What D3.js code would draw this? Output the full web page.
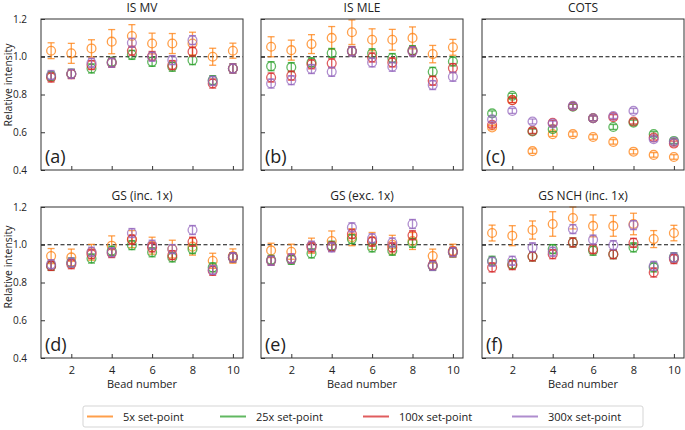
<!DOCTYPE html>
<html><head><meta charset="utf-8">
<script src="https://cdn.jsdelivr.net/npm/d3@7"></script>
<style>body{margin:0;background:#fff}svg{display:block}text{font-family:"Open Sans","Noto Sans",sans-serif;fill:#222}</style>
</head><body><svg id="c" width="685" height="430"></svg>
<script>
const beads = [1,2,3,4,5,6,7,8,9,10];
const xTicks = [2,4,6,8,10];
const yTicks = [0.4,0.6,0.8,1.0,1.2];
const yTickLabels = ["0.4","0.6","0.8","1.0","1.2"];
const panelTitles = ["IS MV","IS MLE","COTS","GS (inc. 1x)","GS (exc. 1x)","GS NCH (inc. 1x)"];
const panelLetters = ["(a)","(b)","(c)","(d)","(e)","(f)"];
const seriesNames = ["5x set-point","25x set-point","100x set-point","300x set-point"];
const seriesColors = ["#ff7f0e","#2ca02c","#d62728","#9467bd"];

// Panel (a) IS MV
const a5   = [1.032,1.018,1.044,1.080,1.110,1.070,1.070,1.070,1.000,1.032];
const a5e  = [0.042,0.053,0.046,0.064,0.060,0.055,0.053,0.060,0.045,0.040];
const a25  = [0.897,0.910,0.938,0.973,1.010,0.973,0.947,0.982,0.876,0.938];
const a100 = [0.890,0.908,0.956,0.968,1.032,1.004,0.956,1.027,0.858,0.938];
const a300 = [0.903,0.910,0.968,0.968,1.074,1.000,0.982,1.088,0.872,0.938];
// Panel (b) IS MLE
const b5   = [1.053,1.035,1.067,1.100,1.130,1.090,1.090,1.100,1.014,1.050];
const b5e  = [0.053,0.053,0.050,0.060,0.065,0.058,0.055,0.058,0.046,0.042];
const b25  = [0.950,0.945,0.970,1.020,1.030,1.018,0.993,1.035,0.920,0.975];
const b100 = [0.890,0.900,0.960,0.965,1.030,0.996,0.970,1.030,0.873,0.940];
const b300 = [0.858,0.876,0.935,0.920,1.028,0.970,0.947,1.028,0.850,0.894];
// Panel (c) COTS
const c5   = [0.625,0.770,0.500,0.590,0.590,0.575,0.549,0.497,0.480,0.469];
const c5e  = [0.012,0.012,0.012,0.012,0.012,0.012,0.012,0.012,0.012,0.012];
const c25  = [0.700,0.793,0.604,0.616,0.735,0.674,0.628,0.651,0.590,0.554];
const c100 = [0.640,0.770,0.607,0.650,0.738,0.674,0.680,0.657,0.572,0.540];
const c300 = [0.668,0.713,0.657,0.646,0.740,0.674,0.686,0.713,0.563,0.550];
// Panel (d) GS (inc. 1x)
const d5   = [0.940,0.933,0.960,0.995,1.030,0.995,0.977,0.990,0.915,0.940];
const d5e  = [0.040,0.044,0.042,0.052,0.045,0.045,0.047,0.045,0.040,0.038];
const d25  = [0.888,0.906,0.927,0.968,0.998,0.960,0.933,0.977,0.880,0.933];
const d100 = [0.888,0.897,0.950,0.956,1.027,0.986,0.945,1.016,0.862,0.933];
const d300 = [0.897,0.906,0.963,0.960,1.062,1.000,0.977,1.078,0.867,0.933];
// Panel (e) GS (exc. 1x)
const e5   = [0.970,0.963,0.995,1.020,1.040,1.020,1.000,1.020,0.940,0.968];
const e5e  = [0.038,0.040,0.040,0.053,0.045,0.045,0.050,0.045,0.037,0.035];
const e25  = [0.920,0.920,0.954,0.995,1.030,0.986,0.968,1.010,0.888,0.960];
const e100 = [0.915,0.927,0.986,0.990,1.057,1.016,0.986,1.050,0.892,0.963];
const e300 = [0.915,0.927,0.995,0.986,1.092,1.034,1.012,1.110,0.888,0.960];
// Panel (f) GS NCH (inc. 1x)
const f5   = [1.062,1.048,1.078,1.110,1.142,1.100,1.100,1.110,1.030,1.062];
const f5e  = [0.042,0.053,0.048,0.065,0.058,0.058,0.055,0.057,0.045,0.041];
const f25  = [0.915,0.897,0.938,0.977,1.012,0.968,0.950,0.986,0.880,0.933];
const f100 = [0.880,0.892,0.938,0.950,1.012,0.977,0.950,1.010,0.853,0.924];
const f300 = [0.910,0.915,0.986,0.963,1.083,1.027,0.998,1.104,0.888,0.933];

const otherErr = [0.024,0.024,0.013,0.024,0.024,0.024];

const panels = [
  [a5,a25,a100,a300,a5e],[b5,b25,b100,b300,b5e],[c5,c25,c100,c300,c5e],
  [d5,d25,d100,d300,d5e],[e5,e25,e100,e300,e5e],[f5,f25,f100,f300,f5e]
];

const svg = d3.select("#c");
const colX = [41,261,482], rowY = [19,207];
const W = 202, H = 151;

panels.forEach((p,i)=>{
  const col = i%3, row = Math.floor(i/3);
  const g = svg.append("g").attr("transform",`translate(${colX[col]},${rowY[row]})`);
  const x = d3.scaleLinear().domain([0.5,10.5]).range([0,W]);
  const y = d3.scaleLinear().domain([0.4,1.2]).range([H,0]);

  g.append("line").attr("x1",0).attr("x2",W).attr("y1",y(1)).attr("y2",y(1))
    .attr("stroke","#111").attr("stroke-width",1.2).attr("stroke-dasharray","4,2.5");

  for(let s=0;s<4;s++){
    const vals = p[s];
    const errs = s===0 ? p[4] : beads.map(()=>otherErr[i]);
    const sg = g.append("g").attr("stroke",seriesColors[s]).attr("stroke-opacity",0.75).attr("fill","none").attr("stroke-width",1.3);
    beads.forEach((b,k)=>{
      const cx = x(b), v = vals[k], e = errs[k];
      sg.append("line").attr("x1",cx).attr("x2",cx).attr("y1",y(v-e)).attr("y2",y(v+e));
      sg.append("line").attr("x1",cx-3.5).attr("x2",cx+3.5).attr("y1",y(v-e)).attr("y2",y(v-e));
      sg.append("line").attr("x1",cx-3.5).attr("x2",cx+3.5).attr("y1",y(v+e)).attr("y2",y(v+e));
      sg.append("circle").attr("cx",cx).attr("cy",y(v)).attr("r",4.4);
    });
  }

  const yAx = d3.axisLeft(y).tickValues(yTicks).tickSize(-4).tickFormat((d,k)=>col===0?yTickLabels[k]:"").tickPadding(14);
  const xAx = d3.axisBottom(x).tickValues(xTicks).tickSize(-4).tickFormat(d=>row===1?d:"").tickPadding(8);
  const ya = g.append("g").call(yAx);
  const xa = g.append("g").attr("transform",`translate(0,${H})`).call(xAx);
  [ya,xa].forEach(a=>{
    a.select(".domain").remove();
    a.selectAll("line").attr("stroke","#333");
    a.selectAll("text").style("font-size","11px").attr("fill","#333").style("font-family",'"Open Sans","Noto Sans",sans-serif');
  });
  ya.selectAll("text").style("font-size","10px");
  g.append("rect").attr("width",W).attr("height",H).attr("fill","none").attr("stroke","#333").attr("stroke-width",1);

  g.append("text").attr("x",W/2).attr("y",-7).attr("text-anchor","middle").style("font-size","12px").text(panelTitles[i]);
  g.append("text").attr("x",4).attr("y",H-7).style("font-size","18px").text(panelLetters[i]);
  if(row===1) g.append("text").attr("x",W/2).attr("y",H+30).attr("text-anchor","middle").style("font-size","11px").text("Bead number");
  if(col===0) g.append("text").attr("transform",`translate(${-29},${row===0?66:60}) rotate(-90)`).attr("text-anchor","middle").style("font-size","10.5px").text("Relative intensity");
});

const lg = svg.append("g");
lg.append("rect").attr("x",83).attr("y",406).attr("width",560).attr("height",21).attr("rx",2)
  .attr("fill","#fff").attr("stroke","#d5d5d5").attr("stroke-width",1);
const lineX = [87,220,363,512];
seriesNames.forEach((n,s)=>{
  lg.append("line").attr("x1",lineX[s]).attr("x2",lineX[s]+26).attr("y1",416.5).attr("y2",416.5)
    .attr("stroke",seriesColors[s]).attr("stroke-opacity",0.75).attr("stroke-width",2);
  lg.append("text").attr("x",lineX[s]+36).attr("y",420.5).style("font-size","11px").text(n);
});
</script></body></html>
